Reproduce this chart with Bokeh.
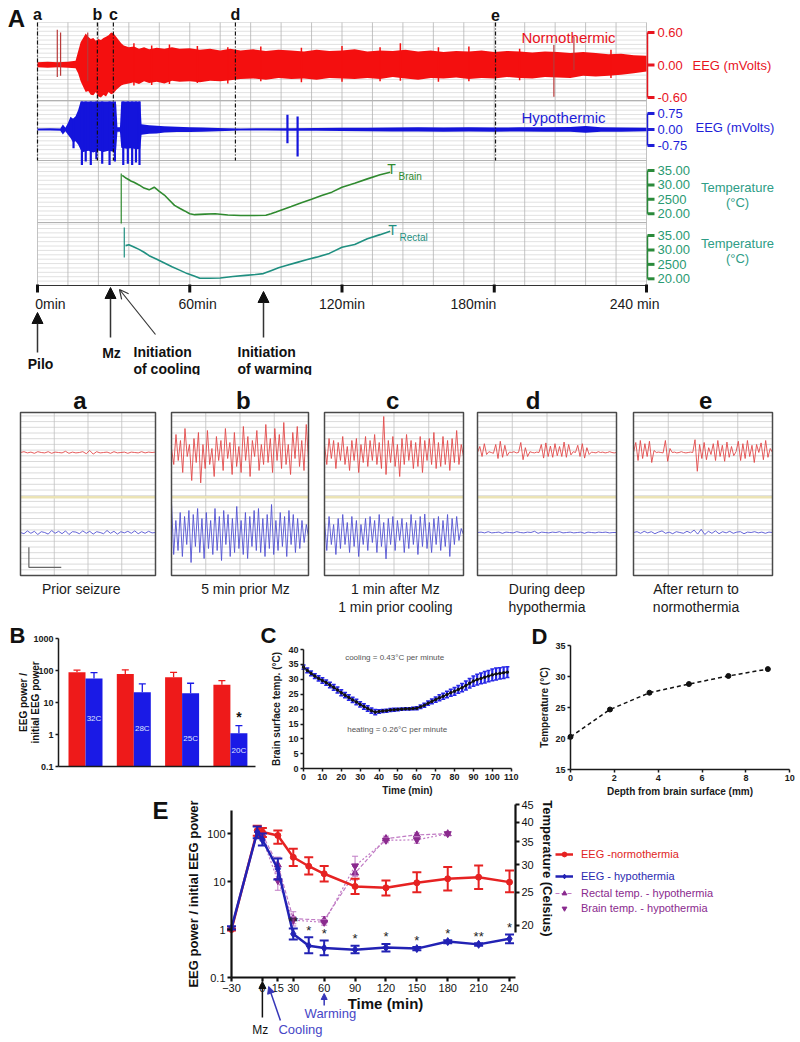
import numpy as np
from bokeh.plotting import figure
from bokeh.layouts import column, row
from bokeh.models import (Range1d, LinearAxis, LogAxis, Arrow, NormalHead, OpenHead,
                          FixedTicker, Legend, LegendItem, NumeralTickFormatter)
from bokeh.core.properties import value
from bokeh.embed import file_html
from bokeh.resources import INLINE

FONT = "Liberation Sans"

# ======================= DATA =======================
# ---- Panel A: long recording (time in min) ----
A_MARK_T = [0, 23.6, 29.9, 78.0, 180.5]
A_MARK_LABELS = ["a", "b", "c", "d", "e"]
A_TIME_TICKS = [0, 60, 120, 180, 240]
A_TIME_LABELS = ["0min", "60min", "120min", "180min", "240 min"]
RED_TICKS = [0.60, 0.00, -0.60]
RED_TICK_LABELS = ["0.60", "0.00", "-0.60"]
BLUE_TICKS = [0.75, 0.00, -0.75]
BLUE_TICK_LABELS = ["0.75", "0.00", "-0.75"]
TEMP_TICKS = [35, 30, 25, 20]
TEMP_TICK_LABELS = ["35.00", "30.00", "2500", "20.00"]

# normothermic EEG envelope (mV)
NORMO_T = [0, 4, 8, 12, 15, 16, 17, 18, 19, 20, 21, 22, 23, 24, 25, 26, 27, 28, 29, 30, 31, 32, 33, 34, 36, 38,
           40, 42, 44, 47, 50, 53, 56, 60, 64, 68, 72, 76, 80, 85, 90, 95, 100, 105, 110, 115, 120, 125, 130,
           135, 140, 145, 150, 155, 160, 165, 170, 175, 180, 185, 190, 195, 200, 205, 210, 215, 220, 225, 230,
           235, 240]
NORMO_HI = [0.05, 0.06, 0.05, 0.06, 0.08, 0.25, 0.42, 0.5, 0.58, 0.52, 0.48, 0.5, 0.45, 0.48, 0.46, 0.5, 0.52,
            0.55, 0.6, 0.58, 0.52, 0.46, 0.4, 0.36, 0.33, 0.34, 0.3, 0.33, 0.29, 0.32, 0.3, 0.33, 0.3, 0.31, 0.28,
            0.3, 0.27, 0.3, 0.27, 0.29, 0.26, 0.28, 0.27, 0.25, 0.28, 0.26, 0.27, 0.29, 0.25, 0.27, 0.26, 0.28,
            0.25, 0.27, 0.24, 0.26, 0.25, 0.27, 0.24, 0.26, 0.25, 0.23, 0.25, 0.24, 0.22, 0.24, 0.22, 0.2, 0.21,
            0.18, 0.17]
NORMO_LO = [-0.04, -0.05, -0.04, -0.05, -0.06, -0.15, -0.3, -0.4, -0.5, -0.48, -0.55, -0.56, -0.5, -0.58, -0.6,
            -0.55, -0.58, -0.5, -0.54, -0.52, -0.46, -0.42, -0.38, -0.36, -0.34, -0.32, -0.35, -0.3, -0.33, -0.31,
            -0.34, -0.29, -0.31, -0.3, -0.32, -0.29, -0.3, -0.28, -0.26, -0.25, -0.27, -0.24, -0.26, -0.25, -0.27,
            -0.24, -0.25, -0.26, -0.24, -0.26, -0.22, -0.25, -0.27, -0.24, -0.25, -0.23, -0.26, -0.24, -0.25,
            -0.22, -0.24, -0.25, -0.22, -0.23, -0.24, -0.2, -0.21, -0.2, -0.18, -0.15, -0.12]
# isolated artefact spikes and ragged peaks on the normothermic trace
NORMO_SPIKE_T = [7.8, 9.1, 19.8, 203.5, 211.4]
NORMO_SPIKE_HI = [0.65, 0.6, 0.6, 0.37, 0.52]
NORMO_SPIKE_LO = [-0.22, -0.2, -0.3, -0.585, -0.09]
NORMO_PEAK_T = [38, 45, 52, 63, 75, 88, 104, 120, 135, 143, 158, 170, 190, 226]
NORMO_PEAK_HI = [0.4, 0.36, 0.38, 0.35, 0.33, 0.34, 0.32, 0.35, 0.33, 0.4, 0.33, 0.34, 0.3, 0.28]
NORMO_PEAK_LO = [-0.38, -0.37, -0.35, -0.33, -0.34, -0.3, -0.32, -0.31, -0.3, -0.29, -0.31, -0.3, -0.28, -0.24]

# hypothermic EEG envelope (mV); the seizure blocks are clipped at +1.31
HYPO_T = [0, 5, 9, 10, 11, 12, 13, 14, 15, 16, 17, 18, 20, 22, 24, 26, 28, 30, 31, 31.5, 32.5, 33, 35, 37, 39,
          40.5, 41, 44, 47, 50, 55, 60, 65, 71, 80, 90, 100, 110, 120, 130, 140, 150, 160, 170, 180, 190, 200,
          210, 216, 222, 230, 240]
HYPO_HI = [0.05, 0.06, 0.05, 0.23, 0.08, 0.3, 0.6, 0.5, 0.62, 0.9, 1.31, 1.31, 1.31, 1.31, 1.31, 1.31, 1.31,
           1.31, 1.2, 0.1, 0.1, 1.31, 1.31, 1.31, 1.31, 1.31, 0.25, 0.2, 0.18, 0.15, 0.13, 0.11, 0.09, 0.07,
           0.05, 0.06, 0.06, 0.07, 0.08, 0.08, 0.09, 0.1, 0.09, 0.1, 0.09, 0.1, 0.11, 0.12, 0.16, 0.11, 0.09, 0.08]
HYPO_LO = [-0.05, -0.05, -0.06, -0.23, -0.08, -0.25, -0.4, -0.6, -0.55, -0.7, -0.95, -1.05, -1.0, -1.08, -0.98,
           -1.05, -1.0, -1.04, -0.95, -0.1, -0.1, -0.85, -0.9, -0.88, -0.92, -0.9, -0.25, -0.2, -0.19, -0.14,
           -0.12, -0.12, -0.1, -0.08, -0.05, -0.05, -0.06, -0.06, -0.07, -0.08, -0.09, -0.09, -0.1, -0.09,
           -0.1, -0.09, -0.1, -0.11, -0.15, -0.1, -0.1, -0.08]
HYPO_SPIKE_T = [14.2, 17.5, 19, 21, 23.2, 25.5, 28.4, 30.5, 33.8, 35.6, 37.3, 38.8, 40.2, 98.5, 102.5]
HYPO_SPIKE_HI = [0.5, 1.31, 1.31, 1.31, 1.31, 1.31, 1.31, 1.31, 1.31, 1.31, 1.31, 1.31, 1.31, 0.69, 0.61]
HYPO_SPIKE_LO = [-0.88, -1.66, -1.5, -1.66, -1.4, -1.6, -1.66, -1.5, -1.66, -1.6, -1.66, -1.55, -1.66, -0.64,
                 -1.27]

# temperatures (deg C)
TBRAIN_T = [33.4, 35, 37, 38, 40, 42, 44, 46, 48, 50, 52, 54, 56, 58, 60, 62, 66, 70, 75, 80, 85, 90, 92, 94,
            97, 100, 104, 108, 112, 116, 120, 125, 130, 135, 139]
TBRAIN = [33.3, 32.3, 31.3, 30.9, 30.0, 28.9, 28.3, 29.2, 27.8, 26.5, 24.7, 22.9, 21.9, 21.0, 20.0, 19.7, 19.9,
          20.0, 19.6, 19.4, 19.4, 19.5, 20.0, 20.6, 21.6, 22.5, 23.8, 25.0, 26.3, 27.5, 29.2, 30.6, 32.1, 33.5,
          34.4]
TRECT_T = [34.7, 36, 38, 40, 42, 44, 47, 50, 53, 56, 59, 62, 64, 68, 72, 77, 82, 86, 89, 92, 95, 98, 102, 106,
           110, 115, 120, 125, 130, 135, 139]
TRECT = [31.5, 31.8, 31.0, 30.2, 29.2, 28.0, 26.8, 25.5, 24.2, 23.0, 21.8, 20.9, 20.2, 20.2, 20.3, 20.8, 21.2,
         21.5, 21.8, 22.8, 23.8, 24.6, 25.6, 26.6, 27.5, 28.8, 30.9, 31.9, 33.9, 35.3, 36.5]
ARTIFACT_BRAIN = (33.0, 16.6, 34.0)
ARTIFACT_RECT = (34.2, 27.4, 37.8)

# ---- Panels a-e: 10 s snippets (mV, relative to each trace baseline) ----
SMALL_LETTERS = ["a", "b", "c", "d", "e"]
SMALL_CAPTIONS = [["Prior seizure"], ["5 min prior Mz"], ["1 min after Mz", "1 min prior cooling"],
                  ["During deep", "hypothermia"], ["After return to", "normothermia"]]
SMALL_RED = [
    [0.0, 0.02, -0.01, 0.01, -0.02, 0.02, 0.0, -0.01, 0.02, -0.02, 0.01, 0.0, -0.01, 0.03, -0.02, 0.01, -0.01,
     0.0, 0.02, -0.03, 0.05, -0.04, 0.02, -0.01, 0.0, 0.01, -0.02, 0.02, -0.01, 0.0, 0.01, -0.02, 0.01, 0.0,
     -0.01, 0.02, -0.01, 0.01, 0.0, 0.01],
    [0.1, -0.3, 0.45, -0.2, 0.3, -0.5, 0.6, -0.1, 0.2, -0.7, 0.35, -0.25, 0.5, -0.76, 0.2, -0.4, 0.55, -0.3, 0.1,
     -0.6, 0.4, -0.2, 0.3, -0.45, 0.6, -0.15, 0.25, -0.55, 0.5, -0.35, 0.15, -0.5, 0.65, -0.2, 0.4, -0.6, 0.3,
     -0.1, 0.55, -0.45, 0.2, -0.3, 0.7, -0.25, 0.35, -0.5, 0.6, -0.2, 0.45, -0.4, 0.75, -0.3, 0.2, -0.55, 0.5,
     -0.15, 0.65, -0.35, 0.3, -0.45, 0.7, -0.2],
    [0.2, -0.3, 0.35, -0.15, 0.3, -0.4, 0.25, -0.2, 0.4, -0.3, 0.15, -0.45, 0.3, -0.2, 0.35, -0.5, 0.2, -0.25,
     0.4, -0.35, 0.3, -0.2, 0.45, -0.3, 0.25, -0.4, 0.9, -0.55, 0.3, -0.25, 0.4, -0.35, 0.2, -0.6, 0.35, -0.3,
     0.45, -0.2, 0.3, -0.4, 0.25, -0.35, 0.4, -0.5, 0.3, -0.2, 0.35, -0.3, 0.5, -0.4, 0.25, -0.35, 0.4, -0.3,
     0.3, -0.45, 0.35, -0.25, 0.55, -0.3, 0.2, -0.1],
    [0.0, 0.15, -0.1, 0.22, -0.05, 0.02, 0.0, -0.02, 0.2, -0.15, 0.28, -0.12, 0.18, -0.08, 0.01, 0.0, 0.02,
     -0.01, 0.0, 0.25, -0.18, 0.12, -0.1, 0.02, 0.0, -0.01, 0.01, 0.0, 0.2, -0.14, 0.24, -0.1, 0.16, -0.12,
     0.22, -0.08, 0.15, -0.1, 0.26, -0.12, 0.2, -0.06, 0.02, 0.0, 0.18, -0.1, 0.22, -0.14, 0.12, -0.05, 0.01,
     0.0, -0.01, 0.02, 0.0, 0.01, -0.01, 0.0, 0.02, 0.0, -0.01, 0.0],
    [0.0, 0.25, -0.2, 0.3, -0.15, 0.22, -0.1, 0.28, -0.25, 0.05, 0.0, 0.01, 0.0, -0.01, 0.3, -0.22, 0.1, 0.0,
     0.01, -0.01, 0.0, 0.02, 0.0, -0.01, 0.0, 0.01, 0.0, 0.32, -0.47, 0.2, -0.15, 0.25, -0.18, 0.12, -0.05,
     0.22, -0.2, 0.3, -0.1, 0.18, -0.22, 0.26, -0.12, 0.15, -0.08, 0.02, 0.28, -0.2, 0.22, -0.15, 0.3, -0.1,
     0.18, -0.25, 0.2, 0.0, 0.24, -0.18, 0.3, -0.12, 0.1, 0.0],
]
SMALL_BLUE = [
    [0.0, -0.03, 0.04, -0.02, 0.03, -0.05, 0.02, 0.0, -0.04, 0.05, -0.02, 0.03, -0.03, 0.04, -0.05, 0.02, 0.01,
     -0.03, 0.04, -0.02, 0.03, -0.04, 0.02, 0.0, -0.03, 0.05, -0.02, 0.03, -0.04, 0.02, -0.01, 0.03, -0.02,
     0.04, -0.03, 0.02, -0.02, 0.03, -0.01, 0.0],
    [0.75, -0.55, 0.3, -0.45, 0.5, -0.6, 0.4, -0.3, 0.55, -0.75, 0.45, -0.35, 0.6, -0.5, 0.35, -0.65, 0.5, -0.4,
     0.3, -0.55, 0.6, -0.45, 0.4, -0.7, 0.55, -0.3, 0.45, -0.6, 0.35, -0.5, 0.65, -0.4, 0.3, -0.55, 0.5, -0.65,
     0.4, -0.35, 0.55, -0.45, 0.6, -0.5, 0.35, -0.6, 0.45, -0.4, 0.7, -0.55, 0.3, -0.45, 0.5, -0.35, 0.4, -0.6,
     0.55, -0.3, 0.45, -0.5, 0.35, -0.4, 0.3, -0.25, 0.2, -0.1],
    [0.3, -0.45, 0.4, -0.3, 0.2, -0.55, 0.35, -0.4, 0.45, -0.3, 0.25, -0.5, 0.4, -0.35, 0.3, -0.6, 0.2, -0.3,
     0.35, -0.45, 0.4, -0.25, 0.3, -0.5, 0.45, -0.35, 0.25, -0.66, 0.35, -0.3, 0.4, -0.45, 0.3, -0.2, 0.35,
     -0.5, 0.25, -0.4, 0.45, -0.3, 0.3, -0.55, 0.4, -0.35, 0.46, -0.4, 0.25, -0.5, 0.35, -0.3, 0.4, -0.45, 0.3,
     -0.35, 0.45, -0.6, 0.35, -0.3, 0.4, -0.2, 0.1, -0.05],
    [0.0, 0.01, -0.01, 0.02, -0.01, 0.0, 0.01, -0.02, 0.01, 0.0, -0.01, 0.02, 0.0, -0.01, 0.01, 0.0, 0.03,
     -0.02, 0.01, 0.0, -0.01, 0.01, 0.0, 0.02, -0.01, 0.0, 0.01, -0.01, 0.0, 0.01, -0.02, 0.01, 0.0, -0.01,
     0.01, 0.0, 0.01, -0.01, 0.0, 0.0],
    [0.0, 0.02, -0.02, 0.03, -0.01, 0.02, -0.03, 0.01, 0.04, -0.02, 0.01, -0.03, 0.02, 0.0, -0.02, 0.03, -0.01,
     0.06, -0.04, 0.08, -0.05, 0.03, -0.02, 0.04, -0.03, 0.02, -0.01, 0.03, -0.02, 0.01, 0.02, -0.03, 0.01,
     0.0, 0.02, -0.01, 0.01, -0.02, 0.01, 0.0],
]

# ---- Panel B ----
B_TEMPS = ["32C", "28C", "25C", "20C"]
B_NORMO = [88, 78, 62, 35.6]
B_NORMO_HI = [102, 105, 88, 48.6]
B_HYPO = [56, 21, 19.5, 1.1]
B_HYPO_HI = [86, 38, 40, 1.9]

# ---- Panel C ----
C_TIME = list(range(0, 109, 2))
C_MEAN = [34.1, 33.0, 32.0, 31.1, 30.3, 29.6, 28.9, 28.1, 27.3, 26.4, 25.5, 24.7, 23.9, 23.1, 22.4, 21.6, 20.9,
          20.2, 19.5, 19.0, 19.2, 19.4, 19.5, 19.7, 19.8, 19.9, 20.0, 20.1, 20.1, 20.2, 20.3, 20.8, 21.3, 22.0,
          22.6, 23.2, 23.8, 24.3, 24.9, 25.5, 26.0, 26.6, 27.2, 27.9, 28.7, 29.4, 29.9, 30.3, 30.7, 31.1, 31.5,
          31.8, 32.0, 32.2, 32.4]
C_SEM = [0.7, 0.8, 0.8, 0.8, 0.9, 0.9, 0.9, 0.9, 1.0, 1.0, 1.0, 0.9, 0.9, 0.9, 0.9, 0.9, 0.9, 0.9, 0.9, 0.9,
         0.6, 0.5, 0.5, 0.5, 0.5, 0.4, 0.4, 0.4, 0.4, 0.4, 0.5, 0.6, 0.7, 0.7, 0.8, 0.9, 1.0, 1.0, 1.1, 1.2,
         1.3, 1.3, 1.4, 1.5, 1.6, 1.7, 1.8, 1.8, 1.9, 1.9, 2.0, 2.0, 1.9, 1.9, 1.8]

# ---- Panel D ----
D_DEPTH = [0, 1.8, 3.6, 5.4, 7.2, 9.0]
D_TEMP = [20.3, 24.7, 27.4, 28.8, 30.1, 31.2]

# ---- Panel E ----
E_T = [-30, -5, 0, 15, 30, 45, 60, 90, 120, 150, 180, 210, 240]
E_RED = [1.0, 115, 107, 91, 32, 20.8, 14.5, 7.9, 7.4, 9.4, 11.4, 12.3, 9.7]
E_RED_LO = [0.95, 90, 85, 61, 21, 14, 10, 5.5, 5.1, 6.0, 6.5, 7.0, 6.0]
E_RED_HI = [1.05, 145, 130, 116, 48, 32, 21, 11.4, 10.5, 15.6, 20, 21.5, 17]
E_BLUE = [1.08, 107, 74, 18.4, 0.81, 0.46, 0.41, 0.38, 0.42, 0.40, 0.56, 0.49, 0.64]
E_BLUE_LO = [1.0, 80, 56, 11, 0.62, 0.32, 0.29, 0.32, 0.35, 0.37, 0.52, 0.46, 0.52]
E_BLUE_HI = [1.17, 140, 100, 30, 1.05, 0.69, 0.59, 0.46, 0.50, 0.43, 0.60, 0.52, 0.79]
E_STARS = ["", "", "", "", "**", "*", "*", "*", "*", "*", "*", "**", "*"]
E_TEMP_T = [0, 15, 30, 60, 90, 120, 150, 180]
E_RECTAL = [36.8, 30.0, 20.9, 20.7, 28.4, 35.8, 36.7, 37.0]
E_RECTAL_ERR = [0.5, 1.6, 1.0, 0.5, 1.3, 0.6, 0.5, 0.3]
E_BRAIN = [35.8, 27.0, 20.7, 20.4, 29.8, 35.4, 35.5, 37.0]
E_BRAIN_ERR = [0.5, 1.7, 0.5, 0.4, 2.0, 0.6, 0.8, 0.3]
E_XTICKS = [-30, 0, 15, 30, 60, 90, 120, 150, 180, 210, 240]
E_LEGEND = ["EEG -normothermia", "EEG - hypothermia", "Rectal temp. - hypothermia", "Brain temp. - hypothermia"]

# ======================= STYLE =======================
RED = "#f40f0f"
BLUE = "#1414dc"
GREEN = "#2f8a2f"
TEAL = "#1f8f80"
TEMP_TXT = "#2e9d86"
PURPLE = "#8a2a8e"
LPURPLE = "#c07ac4"


def base_fig(w, h, xr, yr, **kw):
    p = figure(width=w, height=h, x_range=xr, y_range=yr, output_backend="svg", toolbar_location=None,
               x_axis_location=None, y_axis_location=None, min_border=0, **kw)
    p.outline_line_color = None
    p.xgrid.visible = False
    p.ygrid.visible = False
    p.grid.visible = False
    return p


def txt(p, x, y, t, size, color="#111111", bold=False, align="center", base="middle", **kw):
    p.text(x=x, y=y, text=t, text_font=value(FONT), text_font_size=size, text_color=color,
           text_font_style="bold" if bold else "normal", text_align=align, text_baseline=base, **kw)


def style_axis(ax, size="9px", bold=True, lw=1.5, tick_out=3, color="#1a1a1a"):
    ax.axis_line_width = lw
    ax.axis_line_color = color
    ax.major_tick_line_width = lw
    ax.major_tick_line_color = color
    ax.major_tick_out = tick_out
    ax.major_tick_in = 0
    ax.minor_tick_line_color = None
    ax.major_label_text_font = FONT
    ax.major_label_text_font_size = size
    ax.major_label_text_font_style = "bold" if bold else "normal"
    ax.major_label_text_color = color
    ax.major_label_standoff = 2
    ax.axis_label_text_font = FONT
    ax.axis_label_text_font_style = "bold"
    ax.axis_label_text_color = color
    ax.axis_label_standoff = 3


# ======================= PANEL A =======================
def fig_A():
    px0, ppm = 37.0, 2.5375

    def tx(px):
        return (px - px0) / ppm

    top, bot = 0.0, 375.0
    p = base_fig(800, 375, Range1d(tx(0), tx(800)), Range1d(bot, top))

    def lin(v1, y1, v2, y2):
        def f(y):
            return v1 + (y - y1) * (v2 - v1) / (y2 - y1)
        return Range1d(f(bot), f(top))

    p.extra_y_ranges = {"red": lin(0.6, 32, -0.6, 97), "blue": lin(0.75, 113, -0.75, 145),
                        "brain": lin(35, 170, 20, 213.3), "rectal": lin(35, 235, 20, 278.3)}
    # chart-paper grid
    gy = [22 + 4.383 * k for k in range(61)]
    p.segment([0] * len(gy), gy, [240] * len(gy), gy, line_color="#d4d4d4", line_width=0.7)
    sep = [100, 160, 222]
    p.segment([0] * 3, sep, [240] * 3, sep, line_color="#a9a9a9", line_width=0.9)
    gx = list(range(0, 241, 12))
    p.segment(gx, [22] * len(gx), gx, [285] * len(gx), line_color="#b4b4b4", line_width=0.8)

    # EEG traces
    p.varea(x=NORMO_T, y1=NORMO_LO, y2=NORMO_HI, y_range_name="red", fill_color=RED)
    p.segment(NORMO_PEAK_T, NORMO_PEAK_LO, NORMO_PEAK_T, NORMO_PEAK_HI, y_range_name="red",
              line_color=RED, line_width=1.5)
    p.segment(NORMO_SPIKE_T, NORMO_SPIKE_LO, NORMO_SPIKE_T, NORMO_SPIKE_HI, y_range_name="red",
              line_color="#b83a3a", line_width=1.2)
    p.varea(x=HYPO_T, y1=HYPO_LO, y2=HYPO_HI, y_range_name="blue", fill_color=BLUE)
    p.segment(HYPO_SPIKE_T, HYPO_SPIKE_LO, HYPO_SPIKE_T, HYPO_SPIKE_HI, y_range_name="blue",
              line_color=BLUE, line_width=2.2)
    # temperatures
    p.segment([ARTIFACT_BRAIN[0]], [ARTIFACT_BRAIN[1]], [ARTIFACT_BRAIN[0]], [ARTIFACT_BRAIN[2]],
              y_range_name="brain", line_color=GREEN, line_width=1.2)
    p.line(TBRAIN_T, TBRAIN, y_range_name="brain", line_color=GREEN, line_width=1.6)
    p.segment([ARTIFACT_RECT[0]], [ARTIFACT_RECT[1]], [ARTIFACT_RECT[0]], [ARTIFACT_RECT[2]],
              y_range_name="rectal", line_color=TEAL, line_width=1.2)
    p.line(TRECT_T, TRECT, y_range_name="rectal", line_color=TEAL, line_width=1.6)

    # event markers a-e
    n = len(A_MARK_T)
    p.segment(A_MARK_T, [22] * n, A_MARK_T, [160] * n, line_color="#111111", line_width=1.2,
              line_dash="4 2 1 2")
    txt(p, A_MARK_T, [14] * n, A_MARK_LABELS, "16px", bold=True)

    # right-hand channel axes
    ax_t, tk_t, lb_t = tx(647), tx(654), tx(657)
    chans = [("red", RED_TICKS, RED_TICK_LABELS, "#e8141e", "#e8141e"),
             ("blue", BLUE_TICKS, BLUE_TICK_LABELS, "#1e1ed8", "#1e1ed8"),
             ("brain", TEMP_TICKS, TEMP_TICK_LABELS, "#2a8a3a", "#2a9a72"),
             ("rectal", TEMP_TICKS, TEMP_TICK_LABELS, "#2a8a3a", "#2a9a72")]
    for name, ticks, labels, lc, tc in chans:
        k = len(ticks)
        p.segment([ax_t], [min(ticks)], [ax_t], [max(ticks)], y_range_name=name, line_color=lc, line_width=1.5)
        p.segment([ax_t] * k, ticks, [tk_t] * k, ticks, y_range_name=name, line_color=lc, line_width=3)
        txt(p, [lb_t] * k, ticks, labels, "13px", color=tc, align="left", y_range_name=name)
    txt(p, [tx(692)], [65], ["EEG (mVolts)"], "13px", color="#e8141e", align="left")
    txt(p, [tx(695)], [127], ["EEG (mVolts)"], "13px", color="#1e1ed8", align="left")
    for yy in (187, 243):
        txt(p, [tx(737)], [yy], ["Temperature"], "13px", color=TEMP_TXT)
        txt(p, [tx(737)], [yy + 15], ["(\u00b0C)"], "13px", color=TEMP_TXT)
    txt(p, [tx(568)], [37], ["Normothermic"], "15px", color="#e8141e")
    txt(p, [tx(563)], [117], ["Hypothermic"], "15px", color="#1e1ed8")
    txt(p, [tx(391)], [168], ["T"], "14px", color=GREEN)
    txt(p, [tx(398)], [176], ["Brain"], "10px", color=GREEN, align="left")
    txt(p, [tx(392)], [229], ["T"], "14px", color=TEAL)
    txt(p, [tx(399)], [237], ["Rectal"], "10px", color=TEAL, align="left")

    # time axis
    p.segment([0], [285], [240], [285], line_color="#333333", line_width=1)
    k = len(A_TIME_TICKS)
    p.segment(A_TIME_TICKS, [284] * k, A_TIME_TICKS, [292] * k, line_color="#111111", line_width=3)
    dx = [5.1, 3.1, 0.0, -8.2, -4.7]
    txt(p, [t + d for t, d in zip(A_TIME_TICKS, dx)], [303] * k, A_TIME_LABELS, "14px", color="#1a1a1a")

    # event arrows
    head = dict(size=11, fill_color="#111111", line_color="#111111")
    p.add_layout(Arrow(x_start=0, y_start=352, x_end=0, y_end=312, end=NormalHead(**head),
                       line_width=1.5, line_color="#333333"))
    p.add_layout(Arrow(x_start=tx(110), y_start=337, x_end=tx(110), y_end=287, end=NormalHead(**head),
                       line_width=1.5, line_color="#333333"))
    p.add_layout(Arrow(x_start=tx(155), y_start=334, x_end=tx(119), y_end=289,
                       end=OpenHead(size=9, line_width=1.2, line_color="#333333"),
                       line_width=1.2, line_color="#333333"))
    p.add_layout(Arrow(x_start=tx(263), y_start=337, x_end=tx(263), y_end=291, end=NormalHead(**head),
                       line_width=1.5, line_color="#333333"))
    txt(p, [tx(40)], [363], ["Pilo"], "14px", bold=True)
    txt(p, [tx(111)], [352], ["Mz"], "14px", bold=True)
    txt(p, [tx(133), tx(133)], [351, 368], ["Initiation", "of cooling"], "14px", bold=True, align="left")
    txt(p, [tx(237), tx(237)], [351, 368], ["Initiation", "of warming"], "14px", bold=True, align="left")
    txt(p, [tx(16)], [18], ["A"], "24px", bold=True)
    return p


# ======================= PANELS a-e =======================
def small_panel(i):
    slots = [(0, 163), (163, 316), (316, 470), (470, 625), (625, 800)]
    boxes = [(20, 155), (171, 308), (324, 463), (477, 616), (633, 772)]
    letter_x = [4.4, 5.25, 4.9, 4.0, 5.2]
    cap_x = [4.5, 5.4, 5.1, 5.0, 4.5]
    sl, sr = slots[i]
    bl, br = boxes[i]
    pps = (br - bl) / 10.0
    p = base_fig(sr - sl, 247, Range1d(-(bl - sl) / pps, 10 + (sr - br) / pps), Range1d(-3.25, 2.925))
    btm, tp = -2.075, 2.0
    ys = [btm + 0.1425 * k for k in range(1, 29)]
    p.segment([0] * len(ys), ys, [10] * len(ys), ys, line_color="#d0d0d0", line_width=0.8)
    p.segment([2.5, 5, 7.5], [btm] * 3, [2.5, 5, 7.5], [tp] * 3, line_color="#c0c0c0", line_width=0.8)
    p.segment([0], [-0.12], [10], [-0.12], line_color="#ebe3b5", line_width=2.5)
    red = SMALL_RED[i]
    blue = SMALL_BLUE[i]
    p.line(x=list(np.linspace(0, 10, len(red))), y=[1.0 + v for v in red], line_color="#e24a4a",
           line_width=0.9)
    p.line(x=list(np.linspace(0, 10, len(blue))), y=[-1.0 + v for v in blue], line_color="#5252d2",
           line_width=0.9)
    p.quad(left=[0], right=[10], bottom=[btm], top=[tp], fill_color=None, line_color="#4a4a4a",
           line_width=1.5)
    if i == 0:
        p.line(x=[0.62, 0.62, 3.02], y=[-1.37, -1.87, -1.87], line_color="#666666", line_width=1.2)
    txt(p, [letter_x[i]], [2.3], [SMALL_LETTERS[i]], "24px", bold=True)
    for j, line in enumerate(SMALL_CAPTIONS[i]):
        txt(p, [cap_x[i]], [-2.4 - 0.45 * j], [line], "14px", color="#1a1a1a")
    return p


# ======================= PANEL B =======================
def fig_B():
    ppu = 48.3  # px per group
    x0 = 0.441  # group value at the y axis (ref x 58)
    dec = 32.0  # px per decade, 0.1 at ref y 766
    xr = Range1d(x0 + (0 - 58) / ppu, x0 + (257 - 58) / ppu)
    yr = Range1d(10 ** (-1 - (797 - 766) / dec), 10 ** (-1 + (766 - 622) / dec))
    p = base_fig(257, 175, xr, yr, y_axis_type="log")
    groups = [1, 2, 3, 4]
    rx = [g - 0.176 for g in groups]
    bx = [g + 0.176 for g in groups]
    p.vbar(x=rx, top=B_NORMO, bottom=0.1, width=0.352, fill_color="#ee1a1a", line_color=None)
    p.vbar(x=bx, top=B_HYPO, bottom=0.1, width=0.352, fill_color="#1a1ae6", line_color=None)
    p.segment(rx, B_NORMO, rx, B_NORMO_HI, line_color="#ee1a1a", line_width=1.3)
    p.scatter(rx, B_NORMO_HI, marker="dash", size=7, line_color="#ee1a1a", line_width=1.3)
    p.segment(bx, B_HYPO, bx, B_HYPO_HI, line_color="#1a1ae6", line_width=1.3)
    p.scatter(bx, B_HYPO_HI, marker="dash", size=7, line_color="#1a1ae6", line_width=1.3)
    txt(p, bx, [3.16, 1.54, 0.75, 0.316], B_TEMPS, "8px", color="#dfe4ff")
    txt(p, [bx[3]], [B_HYPO_HI[3] * 1.8], ["*"], "14px", bold=True)
    yax = LogAxis(fixed_location=x0, bounds=(0.1, 1000), ticker=FixedTicker(ticks=[0.1, 1, 10, 100, 1000]),
                  formatter=NumeralTickFormatter(format="0.[0]"))
    style_axis(yax)
    p.add_layout(yax, "left")
    xax = LinearAxis(fixed_location=0.1, bounds=(x0, x0 + (255 - 58) / ppu), ticker=FixedTicker(ticks=[]))
    style_axis(xax)
    p.add_layout(xax, "below")
    txt(p, [x0 + (23 - 58) / ppu], [10], ["EEG power /"], "10px", bold=True, angle=np.pi / 2)
    txt(p, [x0 + (35 - 58) / ppu], [10], ["initial EEG power"], "10px", bold=True, angle=np.pi / 2)
    txt(p, [x0 + (17 - 58) / ppu], [10 ** (-1 + (766 - 635) / dec)], ["B"], "22px", bold=True)
    return p


# ======================= PANEL C =======================
def fig_C():
    ppx = 1.888   # px per min, 0 at ref x 303
    ppy = 2.9825  # px per deg, 0 at ref y 768.3
    xr = Range1d((257 - 303) / ppx, (530 - 303) / ppx)
    yr = Range1d(-(797 - 768.3) / ppy, (768.3 - 622) / ppy)
    p = base_fig(273, 175, xr, yr)
    lo = [m - s for m, s in zip(C_MEAN, C_SEM)]
    hi = [m + s for m, s in zip(C_MEAN, C_SEM)]
    p.segment(C_TIME, lo, C_TIME, hi, line_color="#2626e6", line_width=2.2)
    p.scatter(C_TIME + C_TIME, lo + hi, marker="dash", size=4, line_color="#2626e6", line_width=1.5)
    p.line(C_TIME, C_MEAN, line_color="#111111", line_width=1.3)
    p.scatter(C_TIME, C_MEAN, size=2.5, color="#111111")
    xax = LinearAxis(fixed_location=0, bounds=(0, 110), ticker=FixedTicker(ticks=list(range(0, 111, 10))))
    style_axis(xax)
    xax.axis_label = "Time (min)"
    xax.axis_label_text_font_size = "10px"
    xax.axis_label_standoff = 2
    p.add_layout(xax, "below")
    yax = LinearAxis(fixed_location=0, bounds=(0, 40), ticker=FixedTicker(ticks=list(range(0, 41, 5))))
    style_axis(yax)
    yax.axis_label = "Brain surface temp. (\u00b0C)"
    yax.axis_label_text_font_size = "10px"
    p.add_layout(yax, "left")
    txt(p, [48.3], [37.3], ["cooling = 0.43\u00b0C per minute"], "8px", color="#555555")
    txt(p, [49.6], [13.2], ["heating = 0.26\u00b0C per minute"], "8px", color="#555555")
    txt(p, [(268 - 303) / ppx], [(768.3 - 635) / ppy], ["C"], "22px", bold=True)
    return p


# ======================= PANEL D =======================
def fig_D():
    ppx = 21.93   # px per mm, 0 at ref x 570
    ppy = 6.215   # px per deg, 15 at ref y 769.3
    xr = Range1d((530 - 570) / ppx, (800 - 570) / ppx)
    yr = Range1d(15 - (797 - 769.3) / ppy, 15 + (769.3 - 622) / ppy)
    p = base_fig(270, 175, xr, yr)
    p.line(D_DEPTH, D_TEMP, line_color="#111111", line_width=1.5, line_dash="4 3")
    p.scatter(D_DEPTH, D_TEMP, size=5, color="#111111")
    xax = LinearAxis(fixed_location=15, bounds=(0, 10), ticker=FixedTicker(ticks=[0, 2, 4, 6, 8, 10]))
    style_axis(xax)
    xax.axis_label = "Depth from brain surface (mm)"
    xax.axis_label_text_font_size = "10px"
    xax.axis_label_standoff = 2
    p.add_layout(xax, "below")
    yax = LinearAxis(fixed_location=0, bounds=(15, 35), ticker=FixedTicker(ticks=[15, 20, 25, 30, 35]))
    style_axis(yax)
    yax.axis_label = "Temperature (\u00b0C)"
    yax.axis_label_text_font_size = "10px"
    yax.axis_label_standoff = 2
    p.add_layout(yax, "left")
    txt(p, [(539 - 570) / ppx], [15 + (769.3 - 636) / ppy], ["D"], "22px", bold=True)
    return p


# ======================= PANEL E =======================
def fig_E():
    ppx = 1.0297  # px per min, -30 at ref x 231
    dec = 48.0    # px per decade, 0.1 at ref y 977
    ppt = 6.4     # px per deg, 20 at ref y 971
    top_px, bot_px = 797, 1040
    x_at_axis, x_right = -30, 245.8
    xr = Range1d(-30 - 231 / ppx, x_right + (800 - 515) / ppx)
    yr = Range1d(10 ** (-1 - (bot_px - 977) / dec), 10 ** (-1 + (977 - top_px) / dec))
    p = base_fig(800, bot_px - top_px, xr, yr, y_axis_type="log")
    p.extra_y_ranges = {"temp": Range1d(20 - (bot_px - 971) / ppt, 20 + (971 - top_px) / ppt)}
    red_c, blue_c = "#e62222", "#2222b4"
    # temperatures (right axis)
    rl = p.line(E_TEMP_T, E_RECTAL, y_range_name="temp", line_color=LPURPLE, line_width=1.2, line_dash="4 2")
    r_lo = [v - e for v, e in zip(E_RECTAL, E_RECTAL_ERR)]
    r_hi = [v + e for v, e in zip(E_RECTAL, E_RECTAL_ERR)]
    p.segment(E_TEMP_T, r_lo, E_TEMP_T, r_hi, y_range_name="temp", line_color=LPURPLE, line_width=1)
    p.scatter(E_TEMP_T + E_TEMP_T, r_lo + r_hi, y_range_name="temp", marker="dash", size=6,
              line_color=LPURPLE, line_width=1)
    rs = p.scatter(E_TEMP_T, E_RECTAL, y_range_name="temp", marker="triangle", size=7, color=PURPLE)
    p.line(E_TEMP_T, E_BRAIN, y_range_name="temp", line_color=LPURPLE, line_width=1.2, line_dash="2 2")
    b_lo = [v - e for v, e in zip(E_BRAIN, E_BRAIN_ERR)]
    b_hi = [v + e for v, e in zip(E_BRAIN, E_BRAIN_ERR)]
    p.segment(E_TEMP_T, b_lo, E_TEMP_T, b_hi, y_range_name="temp", line_color=LPURPLE, line_width=1)
    p.scatter(E_TEMP_T + E_TEMP_T, b_lo + b_hi, y_range_name="temp", marker="dash", size=6,
              line_color=LPURPLE, line_width=1)
    bs = p.scatter(E_TEMP_T, E_BRAIN, y_range_name="temp", marker="inverted_triangle", size=7, color=PURPLE)
    # EEG power (left axis)
    nl = p.line(E_T, E_RED, line_color=red_c, line_width=2.5)
    p.segment(E_T, E_RED_LO, E_T, E_RED_HI, line_color=red_c, line_width=2)
    p.scatter(E_T + E_T, E_RED_LO + E_RED_HI, marker="dash", size=9, line_color=red_c, line_width=2)
    ns = p.scatter(E_T, E_RED, marker="circle", size=6, color=red_c)
    hl = p.line(E_T, E_BLUE, line_color=blue_c, line_width=2.5)
    p.segment(E_T, E_BLUE_LO, E_T, E_BLUE_HI, line_color=blue_c, line_width=2)
    p.scatter(E_T + E_T, E_BLUE_LO + E_BLUE_HI, marker="dash", size=9, line_color=blue_c, line_width=2)
    hs = p.scatter(E_T, E_BLUE, marker="diamond", size=8, color=blue_c)
    star_y = [h * 1.4 for h in E_BLUE_HI]
    txt(p, E_T, star_y, E_STARS, "13px", color="#222222")

    top_val = 10 ** (-1 + (977 - 810) / dec)
    left = LogAxis(fixed_location=x_at_axis, bounds=(0.1, top_val), ticker=FixedTicker(ticks=[0.1, 1, 10, 100]),
                   formatter=NumeralTickFormatter(format="0.[0]"))
    style_axis(left, size="11px", bold=False, lw=2.2, tick_out=4, color="#111111")
    left.axis_label = "EEG power / initial EEG power"
    left.axis_label_text_font_size = "13px"
    p.add_layout(left, "left")
    bottom = LinearAxis(fixed_location=0.1, bounds=(x_at_axis, x_right), ticker=FixedTicker(ticks=E_XTICKS))
    style_axis(bottom, size="11px", bold=False, lw=2.2, tick_out=4, color="#111111")
    p.add_layout(bottom, "below")
    right = LinearAxis(y_range_name="temp", fixed_location=x_right, bounds=(19.06, 45.16),
                       ticker=FixedTicker(ticks=[20, 25, 30, 35, 40, 45]))
    style_axis(right, size="11px", bold=False, lw=2.2, tick_out=4, color="#111111")
    right.axis_label = "Temperature (Celsius)"
    right.axis_label_text_font_size = "13px"
    p.add_layout(right, "right")

    # legend (one per entry so each label keeps its colour)
    entries = [([nl, ns], "#e02424", 854), ([hl, hs], "#2a2ab0", 876), ([rl, rs], PURPLE, 893),
               ([bs], PURPLE, 908)]
    for (rends, col, yref), lab in zip(entries, E_LEGEND):
        leg = Legend(items=[LegendItem(label=lab, renderers=rends)], location=(555, bot_px - yref - 6),
                     border_line_color=None, background_fill_alpha=0, padding=0, margin=0, spacing=0,
                     glyph_width=18, glyph_height=12, label_height=12, label_standoff=8,
                     label_text_font=FONT, label_text_font_size="11px", label_text_color=col)
        p.add_layout(leg)

    # annotations below axis
    def ylog(yref):
        return 10 ** (-1 - (yref - 977) / dec)

    p.add_layout(Arrow(x_start=0, y_start=ylog(1017), x_end=0, y_end=ylog(981),
                       end=NormalHead(size=7, fill_color="#111111", line_color="#111111"),
                       line_width=1.5, line_color="#111111"))
    p.add_layout(Arrow(x_start=17.5, y_start=ylog(1020), x_end=6.1, y_end=ylog(986),
                       end=NormalHead(size=7, fill_color="#3636b8", line_color="#3636b8"),
                       line_width=1.5, line_color="#3636b8"))
    p.add_layout(Arrow(x_start=60, y_start=ylog(1005), x_end=60, y_end=ylog(993),
                       end=NormalHead(size=6, fill_color="#3636b8", line_color="#3636b8"),
                       line_width=1.5, line_color="#3636b8"))
    txt(p, [-2], [ylog(1029)], ["Mz"], "12px", color="#111111")
    txt(p, [37], [ylog(1029)], ["Cooling"], "13px", color="#4646c6")
    txt(p, [66], [ylog(1013)], ["Warming"], "13px", color="#4646c6")
    txt(p, [-30 + (385 - 231) / ppx], [ylog(1003)], ["Time (min)"], "15px", bold=True)
    txt(p, [-30 - (231 - 160) / ppx], [ylog(810)], ["E"], "24px", bold=True)
    return p


layout = column(
    fig_A(),
    row(*[small_panel(i) for i in range(5)], spacing=0),
    row(fig_B(), fig_C(), fig_D(), spacing=0),
    fig_E(),
    spacing=0,
)
open("out.html", "w").write(file_html(layout, INLINE))
